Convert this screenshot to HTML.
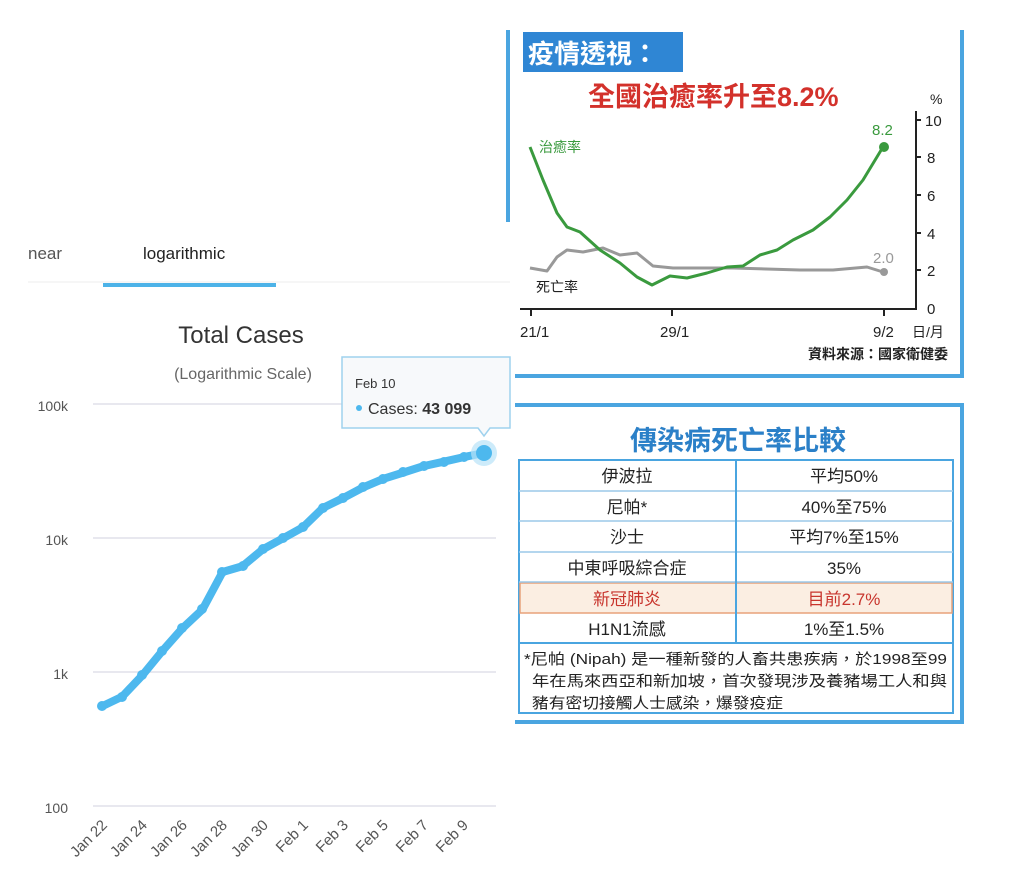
<!DOCTYPE html>
<html><head><meta charset="utf-8"><style>
body{margin:0;background:#fff;}
svg{display:block;}
</style></head><body>
<svg width="1024" height="882" viewBox="0 0 1024 882" xmlns="http://www.w3.org/2000/svg" font-family="Liberation Sans, Noto Sans CJK TC, sans-serif">
<rect width="1024" height="882" fill="#fff"/>
<!-- LEFT CHART -->
<text x="28" y="259" font-size="17" fill="#555">near</text>
<text x="143" y="259" font-size="17" fill="#222">logarithmic</text>
<line x1="28" y1="282" x2="510" y2="282" stroke="#eee" stroke-width="1"/>
<rect x="103" y="283" width="173" height="4" fill="#4db3e8"/>
<text x="241" y="343" font-size="24" fill="#333" text-anchor="middle">Total Cases</text>
<text x="243" y="379" font-size="16" fill="#666" text-anchor="middle">(Logarithmic Scale)</text>
<g stroke="#e0e0ea" stroke-width="1.5">
<line x1="93" y1="404" x2="496" y2="404"/>
<line x1="93" y1="538" x2="496" y2="538"/>
<line x1="93" y1="672" x2="496" y2="672"/>
<line x1="93" y1="806" x2="496" y2="806"/>
</g>
<g font-size="14" fill="#555" text-anchor="end">
<text x="68" y="411">100k</text>
<text x="68" y="545">10k</text>
<text x="68" y="679">1k</text>
<text x="68" y="813">100</text>
</g>
<polyline fill="none" stroke="#4db8ee" stroke-width="8" stroke-linejoin="round" stroke-linecap="round"
points="102,706.3 122.1,696.7 142.2,675.5 162.3,651 182.4,628.3 202.5,609.5 222.6,572 242.7,566.1 262.8,549.3 282.9,538.4 303,527.2 323.1,507.8 343.2,498 363.3,487.3 383.4,478.8 403.5,472.5 423.6,466.1 443.7,461.7 463.8,457.1 483.9,453"/>
<g fill="#4db8ee">
<circle cx="102" cy="706" r="5"/><circle cx="122" cy="697" r="5"/><circle cx="142" cy="675" r="5"/><circle cx="162" cy="651" r="5"/><circle cx="182" cy="628" r="5"/><circle cx="202" cy="609" r="5"/><circle cx="222" cy="572" r="5"/><circle cx="243" cy="566" r="5"/><circle cx="263" cy="549" r="5"/><circle cx="283" cy="538" r="5"/><circle cx="303" cy="527" r="5"/><circle cx="323" cy="508" r="5"/><circle cx="343" cy="498" r="5"/><circle cx="363" cy="487" r="5"/><circle cx="383" cy="479" r="5"/><circle cx="403" cy="472" r="5"/><circle cx="424" cy="466" r="5"/><circle cx="444" cy="462" r="5"/><circle cx="464" cy="457" r="5"/>
<circle cx="484" cy="453" r="13" fill="#b8e2f8" opacity="0.7"/>
<circle cx="484" cy="453" r="8"/>
</g>
<g font-size="15" fill="#555" text-anchor="end">
<text transform="translate(108,826) rotate(-45)">Jan 22</text>
<text transform="translate(148,826) rotate(-45)">Jan 24</text>
<text transform="translate(188,826) rotate(-45)">Jan 26</text>
<text transform="translate(228,826) rotate(-45)">Jan 28</text>
<text transform="translate(269,826) rotate(-45)">Jan 30</text>
<text transform="translate(309,826) rotate(-45)">Feb 1</text>
<text transform="translate(349,826) rotate(-45)">Feb 3</text>
<text transform="translate(389,826) rotate(-45)">Feb 5</text>
<text transform="translate(429,826) rotate(-45)">Feb 7</text>
<text transform="translate(469,826) rotate(-45)">Feb 9</text>
</g>
<!-- tooltip -->
<path d="M342,357 H510 V428 H490 L484,436 L478,428 H342 Z" fill="#f7f9fb" stroke="#9fd2ee" stroke-width="1.5"/>
<text x="355" y="388" font-size="13" fill="#333">Feb 10</text>
<circle cx="359" cy="408" r="3" fill="#4db8ee"/>
<text x="368" y="414" font-size="16" fill="#333">Cases: <tspan font-weight="bold">43 099</tspan></text>

<!-- TOP RIGHT PANEL -->
<rect x="506" y="30" width="4" height="192" fill="#4aa5e0"/>
<rect x="960" y="30" width="4" height="348" fill="#4aa5e0"/>
<rect x="515" y="374" width="449" height="4" fill="#4aa5e0"/>
<rect x="523" y="32" width="160" height="40" fill="#2f86d4"/>
<text x="528" y="63" font-size="26" font-weight="bold" fill="#fff">疫情透視：</text>
<text x="588" y="106" font-size="27" font-weight="bold" fill="#d3312b">全國治癒率升至8.2%</text>
<text x="930" y="104" font-size="14" fill="#222">%</text>
<line x1="916" y1="111" x2="916" y2="309" stroke="#222" stroke-width="2"/>
<line x1="520" y1="309" x2="917" y2="309" stroke="#222" stroke-width="2"/>
<g stroke="#222" stroke-width="2">
<line x1="916" y1="120" x2="921" y2="120"/><line x1="916" y1="157" x2="921" y2="157"/><line x1="916" y1="195" x2="921" y2="195"/><line x1="916" y1="233" x2="921" y2="233"/><line x1="916" y1="270" x2="921" y2="270"/>
<line x1="531" y1="309" x2="531" y2="316"/><line x1="672" y1="309" x2="672" y2="316"/><line x1="884" y1="309" x2="884" y2="316"/>
</g>
<g font-size="15" fill="#222">
<text x="925" y="126">10</text><text x="927" y="163">8</text><text x="927" y="201">6</text><text x="927" y="239">4</text><text x="927" y="276">2</text><text x="927" y="314">0</text>
<text x="520" y="337">21/1</text><text x="660" y="337">29/1</text><text x="873" y="337">9/2</text>
<text x="912" y="337" font-size="14">日/月</text>
</g>
<text x="948" y="359" font-size="14" font-weight="bold" fill="#222" text-anchor="end">資料來源：國家衛健委</text>
<polyline fill="none" stroke="#999" stroke-width="3" stroke-linejoin="round" points="530,268 547,271 557,257 567,250 583,252 603,248 620,255 637,253 653,266 673,268 733,268 800,270 833,270 867,267 883,272"/>
<circle cx="884" cy="272" r="4" fill="#999"/>
<polyline fill="none" stroke="#3a9a3e" stroke-width="3" stroke-linejoin="round" points="530,147 543,180 557,213 567,227 580,232 600,250 620,263 637,277 652,285 670,276 687,278 707,273 727,267 743,266 760,255 777,250 793,240 813,230 830,217 847,200 863,180 883,147"/>
<circle cx="884" cy="147" r="5" fill="#3a9a3e"/>
<text x="539" y="152" font-size="14" fill="#3a9a3e">治癒率</text>
<text x="536" y="292" font-size="14" fill="#222">死亡率</text>
<text x="872" y="135" font-size="15" fill="#3a9a3e">8.2</text>
<text x="873" y="263" font-size="15" fill="#999">2.0</text>

<!-- BOTTOM RIGHT PANEL -->
<rect x="515" y="403" width="449" height="4" fill="#4aa5e0"/>
<rect x="960" y="403" width="4" height="321" fill="#4aa5e0"/>
<rect x="515" y="720" width="449" height="4" fill="#4aa5e0"/>
<text x="738" y="450" font-size="27" font-weight="bold" fill="#2b80c8" text-anchor="middle">傳染病死亡率比較</text>
<rect x="519" y="460" width="434" height="253" fill="#fff" stroke="#4aa5e0" stroke-width="2"/>
<rect x="520" y="583" width="432" height="30" fill="#fbeee2" stroke="#e8a27a" stroke-width="1.5"/>
<g stroke="#9cc8e8" stroke-width="1.5">
<line x1="519" y1="491" x2="953" y2="491"/><line x1="519" y1="521" x2="953" y2="521"/><line x1="519" y1="552" x2="953" y2="552"/><line x1="519" y1="582" x2="953" y2="582"/>
</g>
<line x1="519" y1="643" x2="953" y2="643" stroke="#4aa5e0" stroke-width="2"/>
<line x1="736" y1="460" x2="736" y2="643" stroke="#4aa5e0" stroke-width="2"/>
<g font-size="17" fill="#222" text-anchor="middle">
<text x="627" y="482">伊波拉</text><text x="844" y="482">平均50%</text>
<text x="627" y="513">尼帕*</text><text x="844" y="513">40%至75%</text>
<text x="627" y="543">沙士</text><text x="844" y="543">平均7%至15%</text>
<text x="627" y="574">中東呼吸綜合症</text><text x="844" y="574">35%</text>
<text x="627" y="605" fill="#c8352d">新冠肺炎</text><text x="844" y="605" fill="#c8352d">目前2.7%</text>
<text x="627" y="635">H1N1流感</text><text x="844" y="635">1%至1.5%</text>
</g>
<g font-size="15" fill="#222">
<text x="524" y="664" textLength="423" lengthAdjust="spacingAndGlyphs">*尼帕 (Nipah) 是一種新發的人畜共患疾病，於1998至99</text>
<text x="532" y="686" textLength="415" lengthAdjust="spacingAndGlyphs">年在馬來西亞和新加坡，首次發現涉及養豬場工人和與</text>
<text x="532" y="708" textLength="251" lengthAdjust="spacingAndGlyphs">豬有密切接觸人士感染，爆發疫症</text>
</g>
</svg>
</body></html>
